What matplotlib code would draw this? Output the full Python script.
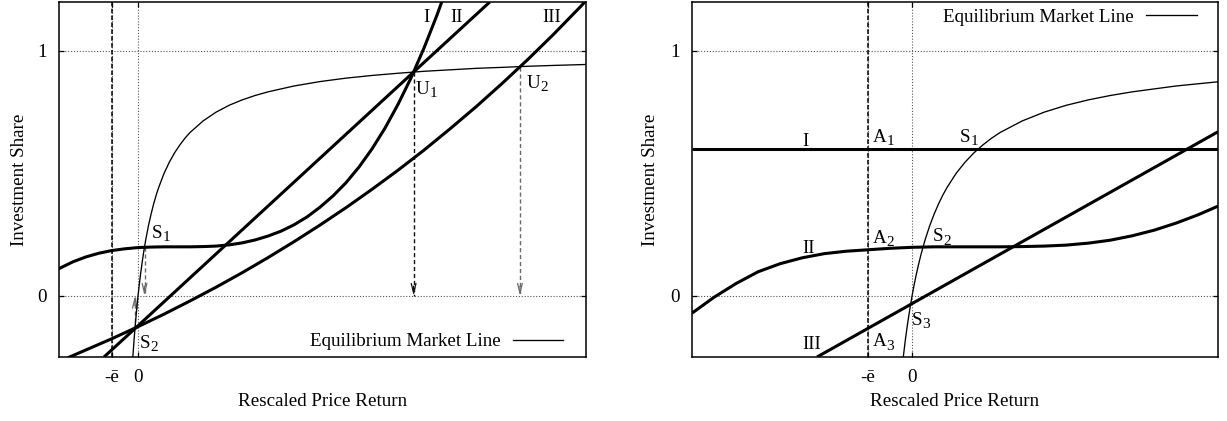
import matplotlib
matplotlib.use("Agg")
import matplotlib.pyplot as plt
from matplotlib.lines import Line2D

plt.rcParams['font.family'] = ['Liberation Serif', 'DejaVu Serif']
FS = 13.7
SUB_FS = FS * 0.8

# ---- data (x in units of e-bar) ----
# Equilibrium Market Line, shared by both panels
eml_x = [-0.2, -0.15, -0.1, -0.05, 0.0, 0.05, 0.1, 0.15, 0.2, 0.25, 0.3, 0.4, 0.5, 0.6, 0.7,
         0.8, 1.0, 1.2, 1.4, 1.6, 1.8, 2.0, 2.5, 3.0, 3.5, 4.0, 4.5, 5.0, 6.0, 7.0, 8.0,
         9.0, 10.0, 11.0, 12.0, 13.0, 14.0, 15.0, 16.0, 17.3]
eml_y = [-0.25, -0.176, -0.111, -0.053, 0.0, 0.048, 0.091, 0.130, 0.167, 0.2, 0.231, 0.286,
         0.333, 0.375, 0.412, 0.444, 0.5, 0.545, 0.583, 0.615, 0.643, 0.667, 0.714, 0.75,
         0.778, 0.8, 0.818, 0.833, 0.857, 0.875, 0.889, 0.9, 0.909, 0.917, 0.923, 0.929,
         0.933, 0.9375, 0.941, 0.945]

# left panel: investment functions
l1_x = [-3.1, -2.5, -2.0, -1.5, -1.0, -0.5, 0.0, 0.5, 1.0, 1.5, 2.0, 2.5, 3.0, 3.5, 4.0,
        4.5, 5.0, 5.5, 6.0, 6.5, 7.0, 7.5, 8.0, 8.5, 9.0, 9.5, 10.0, 10.5, 11.0, 11.5, 11.8]
l1_y = [0.108, 0.139, 0.159, 0.174, 0.185, 0.192, 0.197, 0.199, 0.200, 0.200, 0.200, 0.201,
        0.203, 0.208, 0.216, 0.228, 0.244, 0.264, 0.290, 0.322, 0.362, 0.408, 0.462, 0.526,
        0.600, 0.685, 0.782, 0.890, 1.012, 1.147, 1.235]
l2_x = [-1.31, -0.12, 10.6, 13.53]
l2_y = [-0.25, -0.134, 0.914, 1.2]
l3_x = [-2.7, -2.0, -1.0, 0.0, 1.0, 2.0, 3.0, 4.0, 5.0, 6.0, 7.0, 8.0, 9.0, 10.0, 11.0,
        12.0, 13.0, 14.0, 15.0, 16.0, 17.0, 17.3]
l3_y = [-0.253, -0.221, -0.175, -0.126, -0.075, -0.021, 0.035, 0.094, 0.156, 0.221, 0.289,
        0.360, 0.435, 0.513, 0.595, 0.682, 0.772, 0.867, 0.966, 1.070, 1.179, 1.213]

# left panel: drops from the fixed points to the axis
drop_x = [0.25, -0.12, 10.6, 14.69]
drop_from = [0.2, -0.134, 0.914, 0.936]
drop_color = ['#6a6a6a', '#6a6a6a', '#111111', '#6a6a6a']

# right panel: investment functions
r1_x = [-5.0, 7.0]
r1_y = [0.6, 0.6]
r2_x = [-5.0, -4.5, -4.0, -3.5, -3.0, -2.5, -2.0, -1.5, -1.0, -0.5, 0.0, 0.5, 1.0, 1.5,
        2.0, 2.5, 3.0, 3.5, 4.0, 4.5, 5.0, 5.5, 6.0, 6.5, 7.0]
r2_y = [-0.071, -0.006, 0.050, 0.098, 0.131, 0.155, 0.172, 0.182, 0.188, 0.194, 0.198,
        0.200, 0.200, 0.200, 0.200, 0.201, 0.203, 0.207, 0.215, 0.227, 0.245, 0.268,
        0.297, 0.331, 0.370]
r3_x = [-2.16, 6.95]
r3_y = [-0.25, 0.67]

xlim_left = (-3.04, 17.23)
xlim_right = (-5.0, 6.95)
ylim = (-0.25, 1.2)
xticks = [-1, 0]
xticklabels = ['-ē', '0']
yticks = [0, 1]
yticklabels = ['0', '1']

THICK = 2.2
THIN = 0.95

fig = plt.figure(figsize=(12.27, 4.21), dpi=100)
ax1 = fig.add_axes([59 / 1227, 64 / 421, 527 / 1227, 355 / 421])
ax2 = fig.add_axes([692 / 1227, 64 / 421, 526 / 1227, 355 / 421])


def frame(ax, xlim, ylab_x):
    ax.set_xlim(*xlim)
    ax.set_ylim(*ylim)
    ax.set_xticks(xticks)
    ax.set_xticklabels(xticklabels)
    ax.set_yticks(yticks)
    ax.set_yticklabels(yticklabels)
    ax.tick_params(direction='in', top=True, right=True, length=3.5, width=0.9,
                   labelsize=FS)
    ax.tick_params(axis='x', pad=8.5)
    ax.tick_params(axis='y', pad=9)
    for s in ax.spines.values():
        s.set_linewidth(1.1)
    ax.grid(True, linestyle=(0, (1, 1.6)), color='#555555', lw=0.8)
    ax.set_axisbelow(True)
    ax.axvline(-1, color='black', lw=1.1, ls=(0, (3, 1.5)), zorder=1.5)
    ax.set_xlabel('Rescaled Price Return', fontsize=FS)
    ax.set_ylabel('Investment Share', fontsize=FS)
    ax.xaxis.set_label_coords(0.5, -0.10)
    ax.yaxis.set_label_coords(ylab_x, 0.5)


def label(ax, x, y, main, sub=None, ha='left'):
    """Point label on the baseline at (x, y), with an optional subscript."""
    t = ax.text(x, y, main, fontsize=FS, ha=ha, va='baseline', zorder=5)
    if sub is not None:
        ax.annotate(sub, xy=(1, 0), xycoords=t, xytext=(0.1, 0.6),
                    textcoords='offset points', fontsize=SUB_FS,
                    ha='left', va='baseline', zorder=5)
    return t


frame(ax1, xlim_left, -0.059)
frame(ax2, xlim_right, -0.063)

# ---- left panel ----
ax1.plot(eml_x, eml_y, color='black', lw=THIN, zorder=3)
ax1.plot(l1_x, l1_y, color='black', lw=THICK, zorder=3, solid_capstyle='butt')
ax1.plot(l2_x, l2_y, color='black', lw=THICK, zorder=3, solid_capstyle='butt')
ax1.plot(l3_x, l3_y, color='black', lw=THICK, zorder=3, solid_capstyle='butt')

for x0, y0, col in zip(drop_x, drop_from, drop_color):
    ax1.plot([x0, x0], [y0, 0], color=col, lw=1.0, ls=(0, (3, 2)), zorder=2.5)
    off = 7 if y0 > 0 else -7
    ax1.annotate('', xy=(x0, 0), xytext=(0, off), textcoords='offset points',
                 arrowprops=dict(arrowstyle='->,head_length=0.7,head_width=0.17',
                                 color=col, lw=0.9, shrinkA=0, shrinkB=0,
                                 mutation_scale=10), zorder=2.6)

label(ax1, 0.527, 0.237, 'S', '1')
label(ax1, 0.05, -0.213, 'S', '2')
label(ax1, 10.69, 0.823, 'U', '1')
label(ax1, 14.95, 0.848, 'U', '2')
label(ax1, 11.1, 1.12, 'I', ha='center')
label(ax1, 12.26, 1.12, 'II', ha='center')
label(ax1, 15.9, 1.12, 'III', ha='center')

eml_handle = Line2D([], [], color='black', lw=THIN)
ax1.legend([eml_handle], ['Equilibrium Market Line'], loc='center right',
           bbox_to_anchor=(0.956, 0.043), markerfirst=False, frameon=False,
           borderpad=0, borderaxespad=0, handlelength=2.6, handletextpad=0.65,
           fontsize=FS)

# ---- right panel ----
ax2.plot(eml_x, eml_y, color='black', lw=THIN, zorder=3)
ax2.plot(r1_x, r1_y, color='black', lw=THICK, zorder=3, solid_capstyle='butt')
ax2.plot(r2_x, r2_y, color='black', lw=THICK, zorder=3, solid_capstyle='butt')
ax2.plot(r3_x, r3_y, color='black', lw=THICK, zorder=3, solid_capstyle='butt')

label(ax2, -2.43, 0.613, 'I', ha='center')
label(ax2, -2.36, 0.174, 'II', ha='center')
label(ax2, -2.28, -0.218, 'III', ha='center')
label(ax2, -0.9, 0.63, 'A', '1')
label(ax2, -0.9, 0.215, 'A', '2')
label(ax2, -0.9, -0.207, 'A', '3')
label(ax2, 1.09, 0.63, 'S', '1')
label(ax2, 0.48, 0.222, 'S', '2')
label(ax2, -0.01, -0.118, 'S', '3')

ax2.legend([eml_handle], ['Equilibrium Market Line'], loc='center right',
           bbox_to_anchor=(0.960, 0.958), markerfirst=False, frameon=False,
           borderpad=0, borderaxespad=0, handlelength=2.7, handletextpad=0.63,
           fontsize=FS)

fig.savefig('out.png', dpi=100)
